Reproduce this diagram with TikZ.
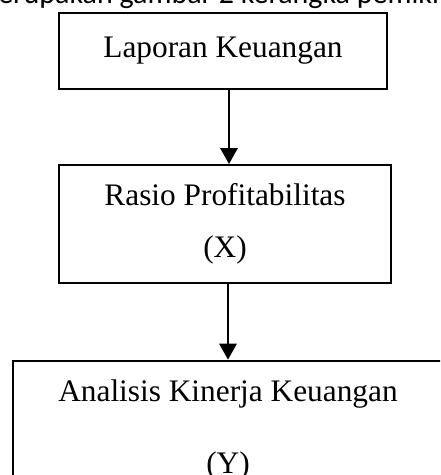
\documentclass[tikz,border=0pt]{standalone}
\usepackage{fontspec}
\setmainfont{Liberation Serif}
\newfontfamily\capfont{Carlito}
\usetikzlibrary{positioning,arrows.meta}

\tikzset{
  box/.style={draw, line width=1.5pt, align=center, inner sep=0pt,
    font=\fontsize{23.5}{39}\selectfont},
  arr/.style={-{Triangle[width=13pt,length=12pt]}, line width=1.6pt}
}

\begin{document}
\begin{tikzpicture}[x=0.75pt, y=-0.75pt]
\useasboundingbox (0,0) rectangle (440,475);
\clip (0,0) rectangle (440,475);

\node[anchor=base west, font=\capfont\fontsize{22.5}{27}\selectfont, inner sep=0pt] (caption) at (-2,3) {erupakan gambar 2 kerangka pemiki};

\node[box, line width=1.8pt, minimum width=246pt, minimum height=57pt] (lapkeu) at (223,51) {Laporan Keuangan};
\node[box, minimum width=249pt, minimum height=88.5pt] (rasio) at (225,224) {Rasio Profitabilitas\\(X)};
\node[box, minimum width=322.5pt, minimum height=104pt, font=\fontsize{23.5}{54}\selectfont] (kinerja) at (228,430) {Analisis Kinerja Keuangan\\(Y)};

\draw[arr] ([xshift=4.5pt]lapkeu.south) -- ([xshift=4.5pt]lapkeu.south |- rasio.north);
\draw[arr] ([xshift=2.25pt]rasio.south) -- (kinerja.north);

\end{tikzpicture}
\end{document}
